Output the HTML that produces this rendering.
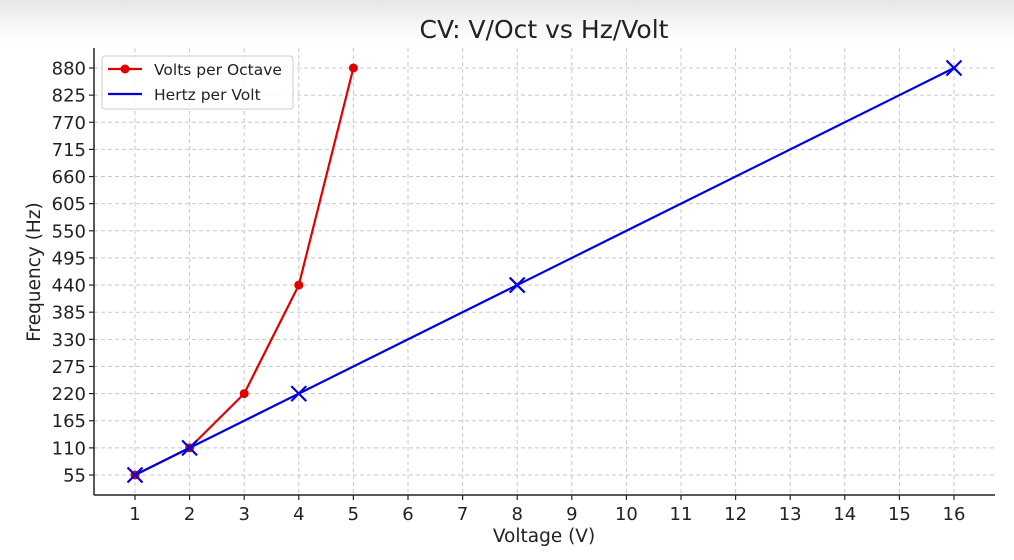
<!DOCTYPE html>
<html><head><style>
html,body{margin:0;padding:0;background:#fff;}
body{width:1014px;height:555px;overflow:hidden;background:linear-gradient(#e6e6e6 0px,#f7f7f7 25px,#fff 45px,#fff 100%);}
text{font-family:"DejaVu Sans","Liberation Sans",sans-serif;fill:#222;}
</style></head><body>
<svg width="1014" height="555" xmlns="http://www.w3.org/2000/svg">
<g id="grid" stroke="#c8c8c8" stroke-width="1" stroke-dasharray="4,3">
</g>
<text x="544" y="38" font-size="25" text-anchor="middle">CV: V/Oct vs Hz/Volt</text>
<g id="chart"></g>
<text x="544" y="542" font-size="18.5" text-anchor="middle">Voltage (V)</text>
<text x="40" y="272" font-size="18.5" text-anchor="middle" transform="rotate(-90 40 272)">Frequency (Hz)</text>
<script>
const ns="http://www.w3.org/2000/svg";
const X=v=>135+(v-1)*54.6, Y=f=>475-(f-55)/55*27.133;
const g=document.getElementById('grid'), c=document.getElementById('chart');
function el(p,t,a){const e=document.createElementNS(ns,t);for(const k in a)e.setAttribute(k,a[k]);p.appendChild(e);return e;}
for(let v=1;v<=16;v++){el(g,'line',{x1:X(v),x2:X(v),y1:48,y2:495});
 el(c,'line',{x1:X(v),x2:X(v),y1:495,y2:500,stroke:'#222','stroke-width':1.2});
 const t=el(c,'text',{x:X(v),y:520,'font-size':18,'text-anchor':'middle'});t.textContent=v;}
for(let i=1;i<=16;i++){const f=55*i;el(g,'line',{x1:94,x2:995,y1:Y(f),y2:Y(f)});
 el(c,'line',{x1:89,x2:94,y1:Y(f),y2:Y(f),stroke:'#222','stroke-width':1.2});
 const t=el(c,'text',{x:86,y:Y(f)+6.5,'font-size':18,'text-anchor':'end'});t.textContent=f;}
el(c,'line',{x1:94,x2:94,y1:48,y2:495,stroke:'#222','stroke-width':1.5});
el(c,'line',{x1:94,x2:995,y1:495,y2:495,stroke:'#222','stroke-width':1.5});
const r=[[1,55],[2,110],[3,220],[4,440],[5,880]], b=[[1,55],[2,110],[4,220],[8,440],[16,880]];
el(c,'polyline',{points:r.map(p=>X(p[0])+','+Y(p[1])).join(' '),fill:'none',stroke:'#e00000','stroke-width':2.2});
r.forEach(p=>el(c,'circle',{cx:X(p[0]),cy:Y(p[1]),r:4.5,fill:'#e00000'}));
el(c,'polyline',{points:b.map(p=>X(p[0])+','+Y(p[1])).join(' '),fill:'none',stroke:'#0000dd','stroke-width':2.2});
b.forEach(p=>{const x=X(p[0]),y=Y(p[1]),s=7.5;
 el(c,'path',{d:`M${x-s},${y-s}L${x+s},${y+s}M${x-s},${y+s}L${x+s},${y-s}`,stroke:'#0000dd','stroke-width':2.2});});
el(c,'rect',{x:102,y:56,width:191,height:53,rx:3,fill:'#fff','fill-opacity':0.85,stroke:'#ccc'});
el(c,'line',{x1:108,x2:142,y1:69,y2:69,stroke:'#e00000','stroke-width':2.2});
el(c,'circle',{cx:125,cy:69,r:4.5,fill:'#e00000'});
el(c,'line',{x1:108,x2:142,y1:94,y2:94,stroke:'#0000dd','stroke-width':2.2});
let t=el(c,'text',{x:154,y:75,'font-size':15.5});t.textContent='Volts per Octave';
t=el(c,'text',{x:154,y:100,'font-size':15.5});t.textContent='Hertz per Volt';
</script>
</svg>
</body></html>
